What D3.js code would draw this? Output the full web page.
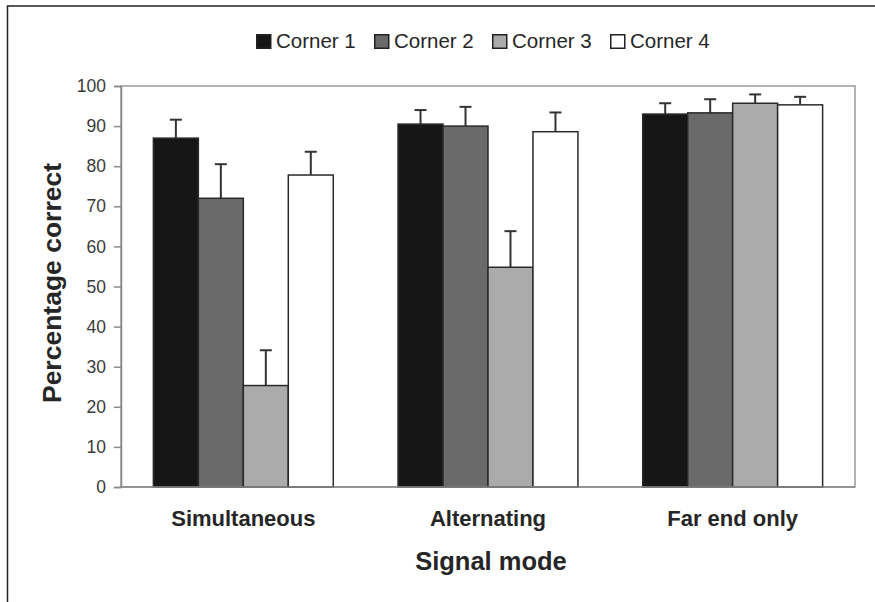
<!DOCTYPE html>
<html>
<head>
<meta charset="utf-8">
<script src="https://cdn.jsdelivr.net/npm/d3@7"></script>
<style>
  body { margin: 0; background: #fff; }
  svg { display: block; }
  text { font-family: "Liberation Sans", Arial, sans-serif; }
</style>
</head>
<body>
<div id="chart"></div>
<script>
// data
const categories = ["Simultaneous", "Alternating", "Far end only"];
const seriesNames = ["Corner 1", "Corner 2", "Corner 3", "Corner 4"];
const corner1 = [87, 90.5, 93];
const corner2 = [72, 90, 93.3];
const corner3 = [25.3, 54.8, 95.7];
const corner4 = [77.8, 88.6, 95.3];
const corner1Err = [4.6, 3.5, 2.7];
const corner2Err = [8.5, 4.8, 3.4];
const corner3Err = [8.8, 9, 2.2];
const corner4Err = [5.8, 4.8, 2];
const yTicks = [0, 10, 20, 30, 40, 50, 60, 70, 80, 90, 100];

const values = [corner1, corner2, corner3, corner4];
const errors = [corner1Err, corner2Err, corner3Err, corner4Err];
const fills = ["#161616", "#6a6a6a", "#ababab", "#ffffff"];

const width = 875, height = 602;
const margin = { top: 86, right: 20, bottom: 115, left: 121 };
const innerWidth = width - margin.left - margin.right,
      innerHeight = height - margin.top - margin.bottom;

const svg = d3.select("#chart").append("svg")
    .attr("width", width)
    .attr("height", height);

// outer frame (only top and left edges visible)
svg.append("path")
    .attr("d", "M7.5,602V6H875")
    .attr("fill", "none")
    .attr("stroke", "#222")
    .attr("stroke-width", 1.5);

const x0 = d3.scaleBand()
    .domain(categories)
    .range([0, innerWidth]);

const x1 = d3.scaleBand()
    .domain(seriesNames)
    .range([0, x0.bandwidth()])
    .paddingInner(0)
    .paddingOuter(0.72);

const y = d3.scaleLinear()
    .domain([0, 100])
    .range([innerHeight, 0]);

const color = d3.scaleOrdinal().domain(seriesNames).range(fills);

const g = svg.append("g")
    .attr("transform", `translate(${margin.left},${margin.top})`);

// plot area border
g.append("rect")
    .attr("width", innerWidth)
    .attr("height", innerHeight)
    .attr("fill", "none")
    .attr("stroke", "#9a9a9a")
    .attr("stroke-width", 1.5);

// y axis
const yAxis = g.append("g")
    .call(d3.axisLeft(y).tickValues(yTicks).tickSize(7).tickPadding(8));
yAxis.attr("font-family", "'Liberation Sans', Arial, sans-serif").attr("font-size", 17.5);
yAxis.select(".domain").attr("stroke", "#8a8a8a").attr("stroke-width", 1.5);
yAxis.selectAll(".tick line").attr("stroke", "#8a8a8a").attr("stroke-width", 1.5);
yAxis.selectAll(".tick text").attr("fill", "#3a3a3a");

// bar data rows
const rows = [];
categories.forEach((c, i) => {
    seriesNames.forEach((s, j) => {
        rows.push({ cat: c, key: s, value: values[j][i], err: errors[j][i] });
    });
});

const groups = g.selectAll(".bar")
    .data(rows)
    .enter()
    .append("g")
    .attr("class", "bar")
    .attr("transform", d => `translate(${x0(d.cat) + x1(d.key)},0)`);

// error bars (upward only)
groups.append("line")
    .attr("x1", x1.bandwidth() / 2)
    .attr("x2", x1.bandwidth() / 2)
    .attr("y1", d => y(d.value))
    .attr("y2", d => y(d.value + d.err))
    .attr("stroke", "#333")
    .attr("stroke-width", 2);

groups.append("line")
    .attr("x1", x1.bandwidth() / 2 - 6)
    .attr("x2", x1.bandwidth() / 2 + 6)
    .attr("y1", d => y(d.value + d.err))
    .attr("y2", d => y(d.value + d.err))
    .attr("stroke", "#333")
    .attr("stroke-width", 2);

groups.append("rect")
    .attr("y", d => y(d.value))
    .attr("width", x1.bandwidth())
    .attr("height", d => y(0) - y(d.value))
    .attr("fill", d => color(d.key))
    .attr("stroke", "#2a2a2a")
    .attr("stroke-width", 1.5);

// bottom axis line
g.append("line")
    .attr("x1", 0).attr("x2", innerWidth)
    .attr("y1", innerHeight).attr("y2", innerHeight)
    .attr("stroke", "#8a8a8a")
    .attr("stroke-width", 1.5);

// category labels
g.selectAll(".cat")
    .data(categories)
    .enter()
    .append("text")
    .attr("class", "cat")
    .attr("x", d => x0(d) + x0.bandwidth() / 2)
    .attr("y", innerHeight + 39)
    .attr("text-anchor", "middle")
    .attr("fill", "#262626")
    .attr("font-size", 22)
    .attr("font-weight", "bold")
    .text(d => d);

// axis titles
svg.append("text")
    .attr("x", 491)
    .attr("y", 570)
    .attr("text-anchor", "middle")
    .attr("fill", "#262626")
    .attr("font-size", 25.5)
    .attr("font-weight", "bold")
    .text("Signal mode");

svg.append("text")
    .attr("transform", `translate(61,283) rotate(-90)`)
    .attr("text-anchor", "middle")
    .attr("fill", "#262626")
    .attr("font-size", 26.5)
    .attr("font-weight", "bold")
    .text("Percentage correct");

// legend
const legend = svg.append("g")
    .selectAll("g")
    .data(seriesNames)
    .enter()
    .append("g")
    .attr("transform", (d, i) => `translate(${256 + i * 118},0)`);

legend.append("rect")
    .attr("x", 0.75)
    .attr("y", 34.75)
    .attr("width", 14)
    .attr("height", 13.5)
    .attr("fill", d => color(d))
    .attr("stroke", "#222")
    .attr("stroke-width", 1.5);

legend.append("text")
    .attr("x", 20)
    .attr("y", 48)
    .attr("fill", "#262626")
    .attr("font-size", 20.5)
    .text(d => d);
</script>
</body>
</html>
